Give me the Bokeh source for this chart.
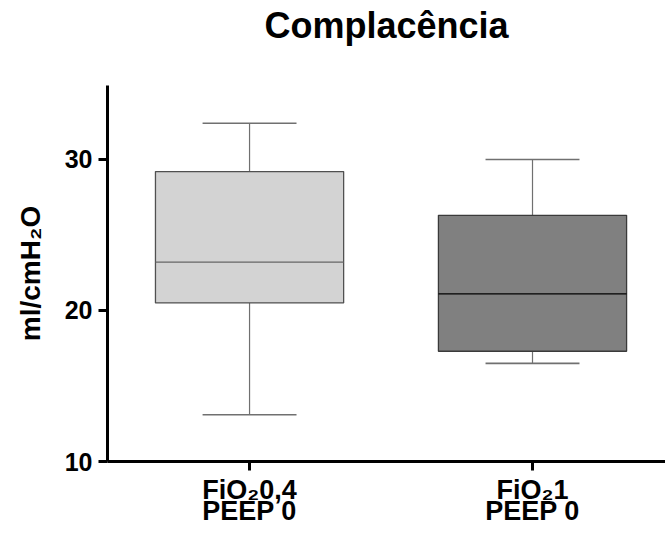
from bokeh.plotting import figure
from bokeh.models import FixedTicker, Range1d, ColumnDataSource, LinearAxis
from bokeh.embed import file_html
from bokeh.resources import INLINE

# Data
title_text = "Complacência"
groups = ["FiO₂0,4\nPEEP 0", "FiO₂1\nPEEP 0"]
positions = [1, 2]
whisker_low = [13.1, 16.5]
q1 = [20.5, 17.3]
median = [23.2, 21.1]
q3 = [29.2, 26.3]
whisker_high = [32.4, 30.0]
y_ticks = [10, 20, 30]
fills = ["#d3d3d3", "#808080"]
outlines = ["#505050", "#3a3a3a"]
median_colors = ["#666666", "#000000"]

FONT = "Liberation Sans"
box_w = 0.665
cap_w = 0.332

p = figure(width=665, height=535, output_backend="svg", toolbar_location=None,
           x_range=Range1d(0.498, 2.47), y_range=Range1d(10, 34.9),
           min_border_left=107, min_border_right=0, min_border_top=85, min_border_bottom=74)
p.outline_line_color = None
p.grid.grid_line_color = None
p.background_fill_color = "white"
p.border_fill_color = "white"

src = ColumnDataSource(dict(x=positions, lo=whisker_low, q1=q1, med=median, q3=q3, hi=whisker_high,
                            fill=fills, line=outlines, mcol=median_colors,
                            cl=[x - cap_w / 2 for x in positions],
                            cr=[x + cap_w / 2 for x in positions],
                            bl=[x - box_w / 2 for x in positions],
                            br=[x + box_w / 2 for x in positions]))

# whiskers
p.segment(x0="x", y0="q3", x1="x", y1="hi", source=src, line_color="#707070", line_width=1.2)
p.segment(x0="x", y0="lo", x1="x", y1="q1", source=src, line_color="#707070", line_width=1.2)
# caps
p.segment(x0="cl", y0="hi", x1="cr", y1="hi", source=src, line_color="#707070", line_width=1.6)
p.segment(x0="cl", y0="lo", x1="cr", y1="lo", source=src, line_color="#707070", line_width=1.6)
# boxes
p.vbar(x="x", width=box_w, bottom="q1", top="q3", source=src,
       fill_color="fill", line_color="line", line_width=1.3)
# medians
p.segment(x0="bl", y0="med", x1="br", y1="med", source=src, line_color="mcol", line_width=1.3)

# bottom axis (created by figure)
bottom_axis = p.below[0]
left_axis = p.left[0]

# title, drawn as the label of a bare axis above the frame
top_axis = LinearAxis(ticker=FixedTicker(ticks=[]), axis_label=title_text,
                      axis_line_color=None, major_tick_line_color=None, minor_tick_line_color=None,
                      major_tick_out=0, minor_tick_out=0, major_tick_in=0, minor_tick_in=0,
                      axis_label_text_font=FONT, axis_label_text_font_style="bold",
                      axis_label_text_font_size="36px", axis_label_text_color="black",
                      axis_label_standoff=40)
p.add_layout(top_axis, "above")

# axes
bottom_axis.ticker = FixedTicker(ticks=positions)
bottom_axis.major_label_overrides = {pos: g for pos, g in zip(positions, groups)}
left_axis.ticker = FixedTicker(ticks=y_ticks)
for ax in (bottom_axis, left_axis):
    ax.axis_line_width = 3
    ax.axis_line_color = "black"
    ax.major_tick_line_width = 3
    ax.major_tick_line_color = "black"
    ax.major_tick_out = 9
    ax.major_tick_in = 0
    ax.minor_tick_line_color = None
    ax.major_label_text_font = FONT
    ax.major_label_text_font_style = "bold"
    ax.major_label_text_color = "black"
left_axis.major_label_text_font_size = "25px"
bottom_axis.major_label_text_font_size = "27px"
bottom_axis.major_label_text_line_height = 0.72
left_axis.major_label_standoff = 6
bottom_axis.major_label_standoff = 4
left_axis.axis_label = "ml/cmH₂O"
left_axis.axis_label_text_font = FONT
left_axis.axis_label_text_font_style = "bold"
left_axis.axis_label_text_font_size = "28px"
left_axis.axis_label_text_color = "black"
left_axis.axis_label_standoff = 16

open("out.html", "w").write(file_html(p, INLINE))
